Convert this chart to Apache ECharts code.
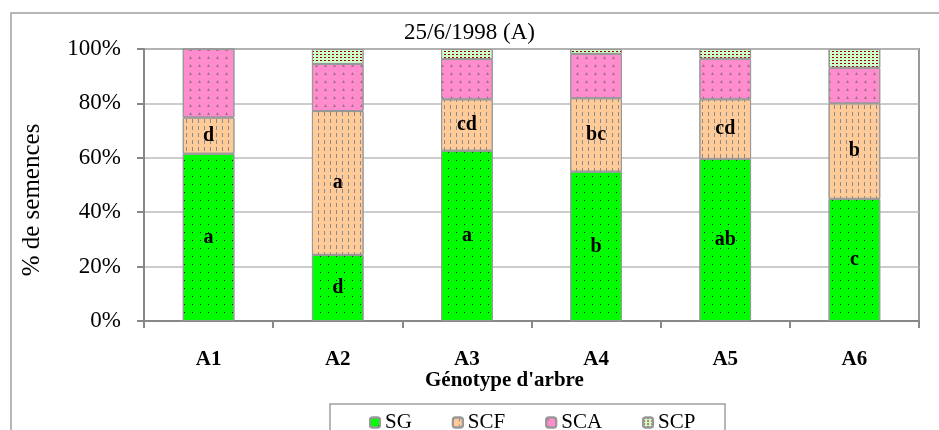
<!DOCTYPE html>
<html>
<head>
    <meta charset="utf-8">
    <title>25/6/1998 (A)</title>
    <script src="https://cdn.jsdelivr.net/npm/echarts@6/dist/echarts.min.js"></script>
    <style>
        html, body { margin: 0; padding: 0; background: #fff; }
    </style>
</head>
<body>
    <div id="chart" style="width: 939px; height: 430px;"></div>
    <script>
        // génotypes
        var categories = ['A1', 'A2', 'A3', 'A4', 'A5', 'A6'];

        // % de semences par classe
        var sgValues  = [61.5, 24.3, 62.6, 54.9, 59.6, 44.9];
        var scfValues = [13.3, 52.9, 18.9, 27.0, 21.9, 35.1];
        var scaValues = [25.2, 17.3, 14.8, 16.3, 14.9, 13.1];
        var scpValues = [0.0, 5.5, 3.7, 1.8, 3.6, 6.9];

        // lettres des groupes homogènes
        var sgLetters  = ['a', 'd', 'a', 'b', 'ab', 'c'];
        var scfLetters = ['d', 'a', 'cd', 'bc', 'cd', 'b'];

        var yTicks = [0, 20, 40, 60, 80, 100];

        var serif = '"Liberation Serif", "DejaVu Serif", serif';

        var chart = echarts.init(document.getElementById('chart'));

        function letterLabel(letters) {
            return {
                show: true,
                position: 'inside',
                color: '#000',
                fontFamily: serif,
                fontWeight: 'bold',
                fontSize: 20,
                formatter: function (p) { return letters[p.dataIndex]; }
            };
        }

        var option = {
            animation: false,
            title: {
                text: '25/6/1998 (A)',
                left: 'center',
                top: 16,
                textStyle: { fontFamily: serif, fontSize: 23, fontWeight: 'normal', color: '#000' }
            },
            legend: {
                left: 364,
                top: 407,
                itemWidth: 10,
                itemHeight: 10,
                itemGap: 40,
                textStyle: { fontFamily: serif, fontSize: 21, color: '#000' },
                data: ['SG', 'SCF', 'SCA', 'SCP']
            },
            graphic: [
                {
                    type: 'rect',
                    shape: { x: 11, y: 13, width: 1000, height: 500 },
                    style: { fill: 'none', stroke: '#a0a0a0', lineWidth: 1.5 },
                    silent: true
                },
                {
                    type: 'rect',
                    shape: { x: 330, y: 404, width: 395, height: 60 },
                    style: { fill: 'none', stroke: '#a0a0a0', lineWidth: 1.5 },
                    silent: true
                },
                {
                    type: 'text',
                    left: 425,
                    top: 370,
                    style: { text: "Génotype d'arbre", font: 'bold 21px ' + serif, fill: '#000' }
                },
                {
                    type: 'text',
                    x: 32,
                    y: 200,
                    rotation: Math.PI / 2,
                    style: {
                        text: '% de semences',
                        font: '25px ' + serif,
                        fill: '#000',
                        align: 'center',
                        verticalAlign: 'middle'
                    }
                }
            ],
            grid: {
                left: 144, right: 20, top: 49, bottom: 109,
                show: true,
                borderColor: '#999',
                borderWidth: 2,
                containLabel: false
            },
            xAxis: {
                type: 'category',
                data: categories,
                axisLine: { lineStyle: { color: '#888', width: 2 } },
                axisTick: { show: true, length: 7, lineStyle: { color: '#888', width: 2 } },
                axisLabel: { margin: 28, fontFamily: serif, fontWeight: 'bold', fontSize: 21, color: '#000' }
            },
            yAxis: {
                type: 'value',
                min: 0,
                max: 100,
                interval: 20,
                axisLine: { show: true, lineStyle: { color: '#888', width: 2 } },
                axisTick: { show: true, length: 7, lineStyle: { color: '#888', width: 2 } },
                axisLabel: {
                    margin: 23,
                    fontFamily: serif,
                    fontSize: 23,
                    color: '#000',
                    formatter: function (v) { return yTicks.indexOf(v) >= 0 ? v + '%' : ''; }
                },
                splitLine: { lineStyle: { color: '#bbb', width: 1.5 } }
            },
            series: [
                {
                    name: 'SG', type: 'bar', stack: 'total', barWidth: '40%',
                    data: sgValues,
                    itemStyle: {
                        color: '#00ff00', borderColor: '#999', borderWidth: 1,
                        decal: { symbol: 'rect', symbolSize: 1, color: '#000', dashArrayX: [1, 7], dashArrayY: [1, 7], rotation: 0 }
                    },
                    label: letterLabel(sgLetters)
                },
                {
                    name: 'SCF', type: 'bar', stack: 'total',
                    data: scfValues,
                    itemStyle: {
                        color: '#ffcc99', borderColor: '#999', borderWidth: 1,
                        decal: { symbol: 'rect', symbolSize: 1, color: '#8a8a8a', dashArrayX: [1, 5], dashArrayY: [4, 3], rotation: 0 }
                    },
                    label: letterLabel(scfLetters)
                },
                {
                    name: 'SCA', type: 'bar', stack: 'total',
                    data: scaValues,
                    itemStyle: {
                        color: '#ff8ccc', borderColor: '#999', borderWidth: 1,
                        decal: { symbol: 'triangle', symbolSize: 1, color: '#a0708a', dashArrayX: [3, 6], dashArrayY: [3, 5], rotation: 0 }
                    }
                },
                {
                    name: 'SCP', type: 'bar', stack: 'total',
                    data: scpValues,
                    itemStyle: {
                        color: '#ccffcc', borderColor: '#999', borderWidth: 1,
                        decal: { symbol: 'rect', symbolSize: 1, color: '#990000', dashArrayX: [2, 2], dashArrayY: [1, 2], rotation: 0 }
                    }
                }
            ]
        };

        chart.setOption(option);
    </script>
</body>
</html>
